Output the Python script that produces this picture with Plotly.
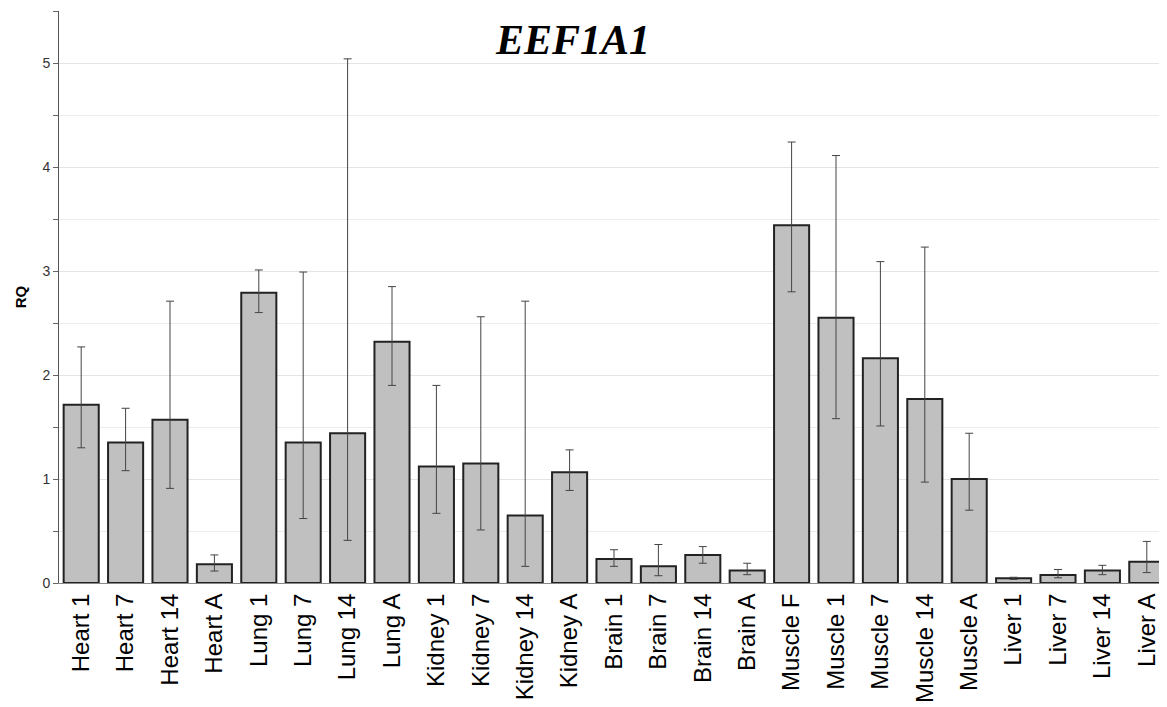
import plotly.graph_objects as go

categories = ["Heart 1", "Heart 7", "Heart 14", "Heart A",
              "Lung 1", "Lung 7", "Lung 14", "Lung A",
              "Kidney 1", "Kidney 7", "Kidney 14", "Kidney A",
              "Brain 1", "Brain 7", "Brain 14", "Brain A",
              "Muscle F", "Muscle 1", "Muscle 7", "Muscle 14", "Muscle A",
              "Liver 1", "Liver 7", "Liver 14", "Liver A"]

rq = [1.715, 1.35, 1.57, 0.18,
      2.79, 1.35, 1.44, 2.32,
      1.12, 1.15, 0.65, 1.065,
      0.23, 0.16, 0.27, 0.12,
      3.44, 2.55, 2.16, 1.77, 1.00,
      0.045, 0.077, 0.12, 0.205]
rq_upper = [2.27, 1.68, 2.71, 0.27,
            3.01, 2.99, 5.04, 2.85,
            1.90, 2.56, 2.71, 1.28,
            0.32, 0.37, 0.35, 0.19,
            4.24, 4.11, 3.09, 3.23, 1.44,
            0.055, 0.13, 0.17, 0.40]
rq_lower = [1.30, 1.08, 0.91, 0.115,
            2.60, 0.62, 0.41, 1.90,
            0.67, 0.51, 0.16, 0.89,
            0.16, 0.07, 0.19, 0.08,
            2.80, 1.58, 1.51, 0.97, 0.70,
            0.035, 0.05, 0.08, 0.10]

err_plus = [u - v for u, v in zip(rq_upper, rq)]
err_minus = [v - l for v, l in zip(rq, rq_lower)]

fig = go.Figure()
fig.add_trace(go.Bar(
    x=categories, y=rq,
    marker=dict(color="#c0c0c0", line=dict(color="#222222", width=2)),
    error_y=dict(type="data", symmetric=False, array=err_plus, arrayminus=err_minus,
                 color="#444444", thickness=1, width=4),
    showlegend=False,
))

fig.update_layout(
    width=1167, height=707,
    margin=dict(l=51, r=6, t=3, b=132),
    paper_bgcolor="white", plot_bgcolor="white",
    bargap=0.21,
    font=dict(family="Liberation Sans, Arial", color="#333333"),
    annotations=[dict(text="<b><i>EEF1A1</i></b>", x=0.463, xref="paper", y=5.22, yref="y",
                      showarrow=False, xanchor="center", yanchor="middle",
                      font=dict(family="Liberation Serif, Times New Roman", size=42, color="black"))],
)
fig.update_xaxes(
    tickangle=-90, tickfont=dict(size=24, color="black", family="Liberation Sans, Arial"),
    showline=True, linecolor="#888888", linewidth=1, ticks="", showgrid=False,
    range=[-0.5, 24.5], automargin=False,
)
fig.update_yaxes(
    range=[0, 5.5], tickvals=[0, 1, 2, 3, 4, 5], ticks="outside", ticklen=5, tickcolor="#666666",
    tickfont=dict(size=14, color="#333333"),
    showline=True, linecolor="#555555", linewidth=1,
    showgrid=True, gridcolor="#e4e4e4", gridwidth=1,
    minor=dict(dtick=0.5, tick0=0, showgrid=True, gridcolor="#ececec", ticks="outside", ticklen=5, tickcolor="#666666"),
    title=dict(text="<b>RQ</b>", font=dict(size=15, color="black"), standoff=12),
    zeroline=False, automargin=False,
)

fig.write_html("out.html")
